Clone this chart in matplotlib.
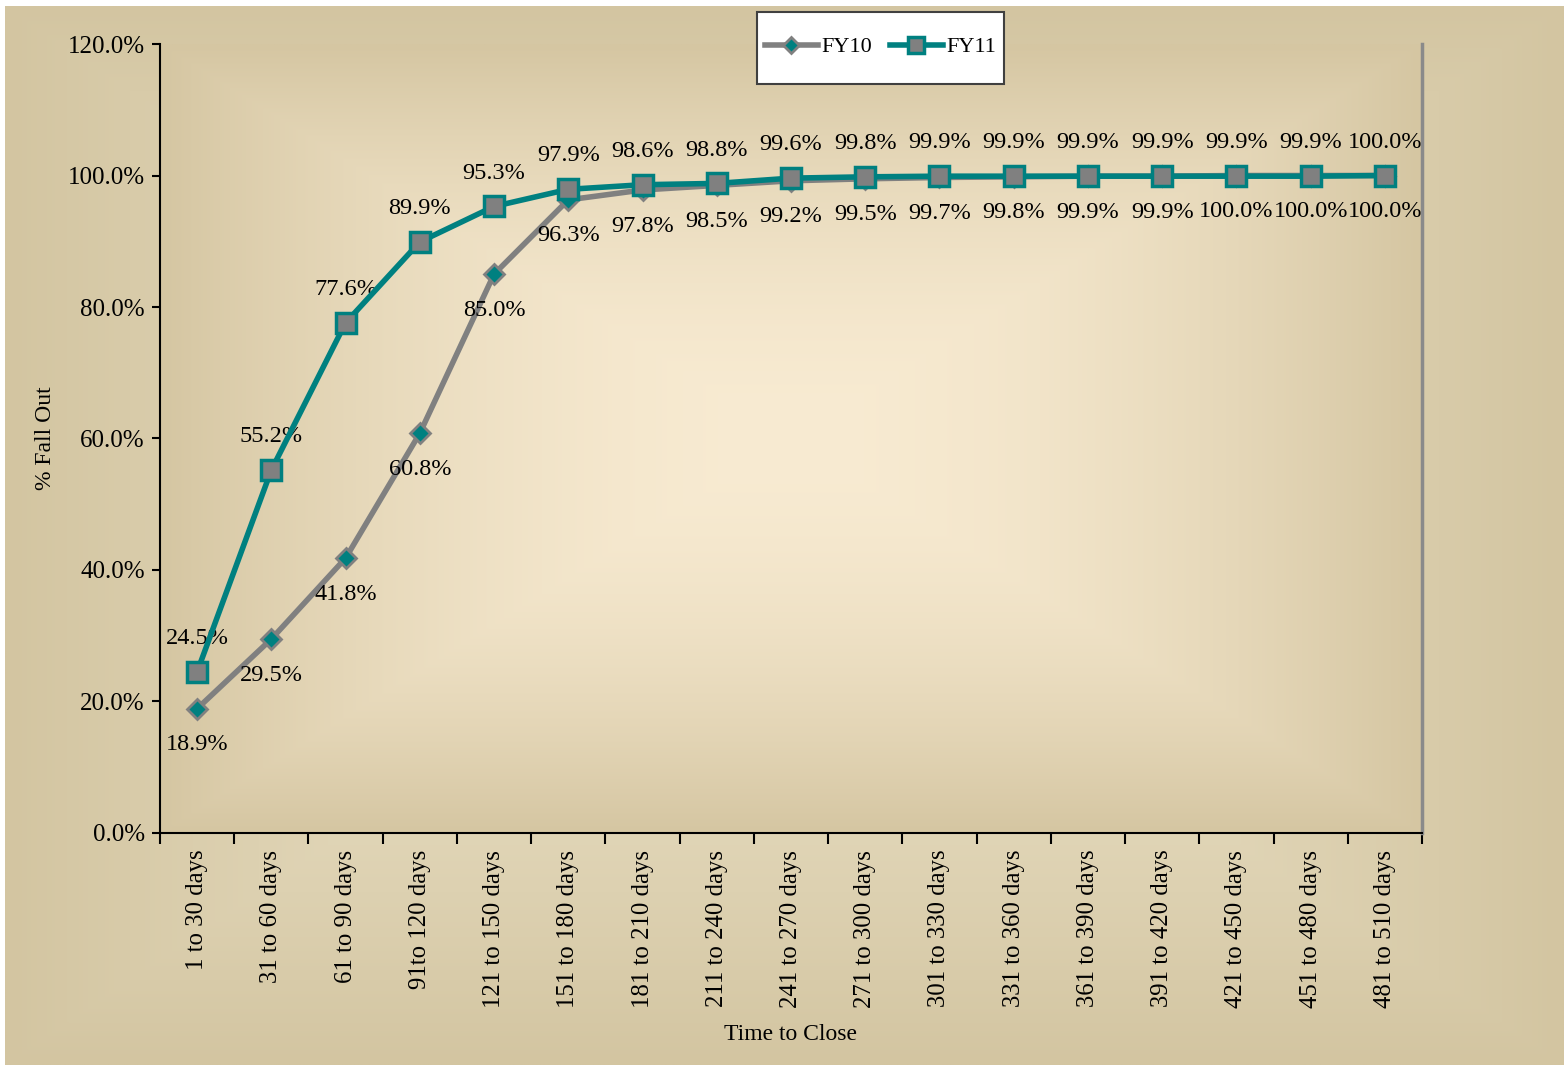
import numpy as np
import matplotlib.pyplot as plt
from matplotlib.colors import to_rgb
from matplotlib.patches import Rectangle

categories = ["1 to 30 days", "31 to 60 days", "61 to 90 days", "91to 120 days",
              "121 to 150 days", "151 to 180 days", "181 to 210 days", "211 to 240 days",
              "241 to 270 days", "271 to 300 days", "301 to 330 days", "331 to 360 days",
              "361 to 390 days", "391 to 420 days", "421 to 450 days", "451 to 480 days",
              "481 to 510 days"]
fy10 = [18.9, 29.5, 41.8, 60.8, 85.0, 96.3, 97.8, 98.5, 99.2, 99.5, 99.7, 99.8,
        99.9, 99.9, 100.0, 100.0, 100.0]
fy11 = [24.5, 55.2, 77.6, 89.9, 95.3, 97.9, 98.6, 98.8, 99.6, 99.8, 99.9, 99.9,
        99.9, 99.9, 99.9, 99.9, 100.0]

plt.rcParams['font.family'] = ['Liberation Serif', 'DejaVu Serif']


def rect_gradient(center, edge, n=400, power=1.6):
    # rectangular "path" gradient like the office fill
    u = np.linspace(-1, 1, n)
    uu, vv = np.meshgrid(u, u)
    t = np.maximum(np.abs(uu), np.abs(vv)) ** power
    c0 = np.array(to_rgb(center))
    c1 = np.array(to_rgb(edge))
    return c0[None, None, :] * (1 - t[..., None]) + c1[None, None, :] * t[..., None]


W, H = 1564, 1066
fig = plt.figure(figsize=(W / 100, H / 100), dpi=100, facecolor="white")

# figure background (thin white margin left/top like the original)
bg = fig.add_axes([5 / W, 1 / H, 1 - 5 / W, 1 - 7 / H], zorder=-10)
bg.imshow(rect_gradient("#ece3c9", "#d3c5a1", power=1.3), aspect='auto',
          extent=[0, 1, 0, 1])
bg.set_axis_off()

ax = fig.add_axes([0.1023, 0.2186, 0.8069, 0.7401])
ax.imshow(rect_gradient("#f8ebd2", "#d5c6a2", power=1.8), aspect='auto',
          extent=[-0.5, 16.5, 0, 120], zorder=0)

x = np.arange(len(categories))
ax.plot(x, fy10, color="#808080", lw=4, marker='D', ms=10, mfc="#008080",
        mec="#808080", mew=2, label="FY10", zorder=3)
ax.plot(x, fy11, color="#008080", lw=4, marker='s', ms=15, mfc="#808080",
        mec="#008080", mew=2.5, label="FY11", zorder=4)

for i in range(len(categories)):
    ax.annotate(f"{fy10[i]:.1f}%", (x[i], fy10[i]), xytext=(0, -26),
                textcoords='offset points', ha='center', va='center', fontsize=17.5)
    ax.annotate(f"{fy11[i]:.1f}%", (x[i], fy11[i]), xytext=(0, 24),
                textcoords='offset points', ha='center', va='center', fontsize=17.5)

ax.set_xlim(-0.5, 16.5)
ax.set_ylim(0, 120)
ax.set_yticks(np.arange(0, 121, 20))
ax.set_yticklabels([f"{v:.1f}%" for v in np.arange(0, 121, 20)], fontsize=18)
ax.set_xticks(np.arange(-0.5, 17, 1))
ax.set_xticklabels([])
ax.set_xticks(x, minor=True)
ax.set_xticklabels(categories, minor=True, rotation=90, fontsize=17.8)
ax.tick_params(axis='x', which='minor', length=0, pad=12)
ax.tick_params(axis='x', which='major', length=8, width=1.5, direction='out')
ax.tick_params(axis='y', length=6, width=1.5, direction='out', pad=5)

ax.spines['top'].set_visible(False)
ax.spines['right'].set_color("#8a8a8a")
ax.spines['right'].set_linewidth(2.5)
ax.spines['left'].set_linewidth(1.5)
ax.spines['bottom'].set_linewidth(1.5)

ax.set_ylabel("% Fall Out", fontsize=17, labelpad=8)
ax.set_xlabel("Time to Close", fontsize=17, labelpad=12)

# legend box drawn separately so it can be taller than wide padding allows
fig.patches.append(Rectangle((757 / W, 1 - 84 / H), 247 / W, 72 / H,
                             transform=fig.transFigure, facecolor="white",
                             edgecolor="#404040", lw=1.5, zorder=5))
leg = fig.legend(*ax.get_legend_handles_labels(), loc='center',
                 bbox_to_anchor=(880.5 / W, 1 - 47 / H), ncol=2,
                 fontsize=16, frameon=False, handlelength=2.4,
                 handletextpad=0.15, columnspacing=0.8, borderpad=0)
leg.set_zorder(6)
leg.legend_handles[0].set_markersize(8)
leg.legend_handles[1].set_markersize(11)

fig.savefig("out.png", dpi=100, facecolor="white")
